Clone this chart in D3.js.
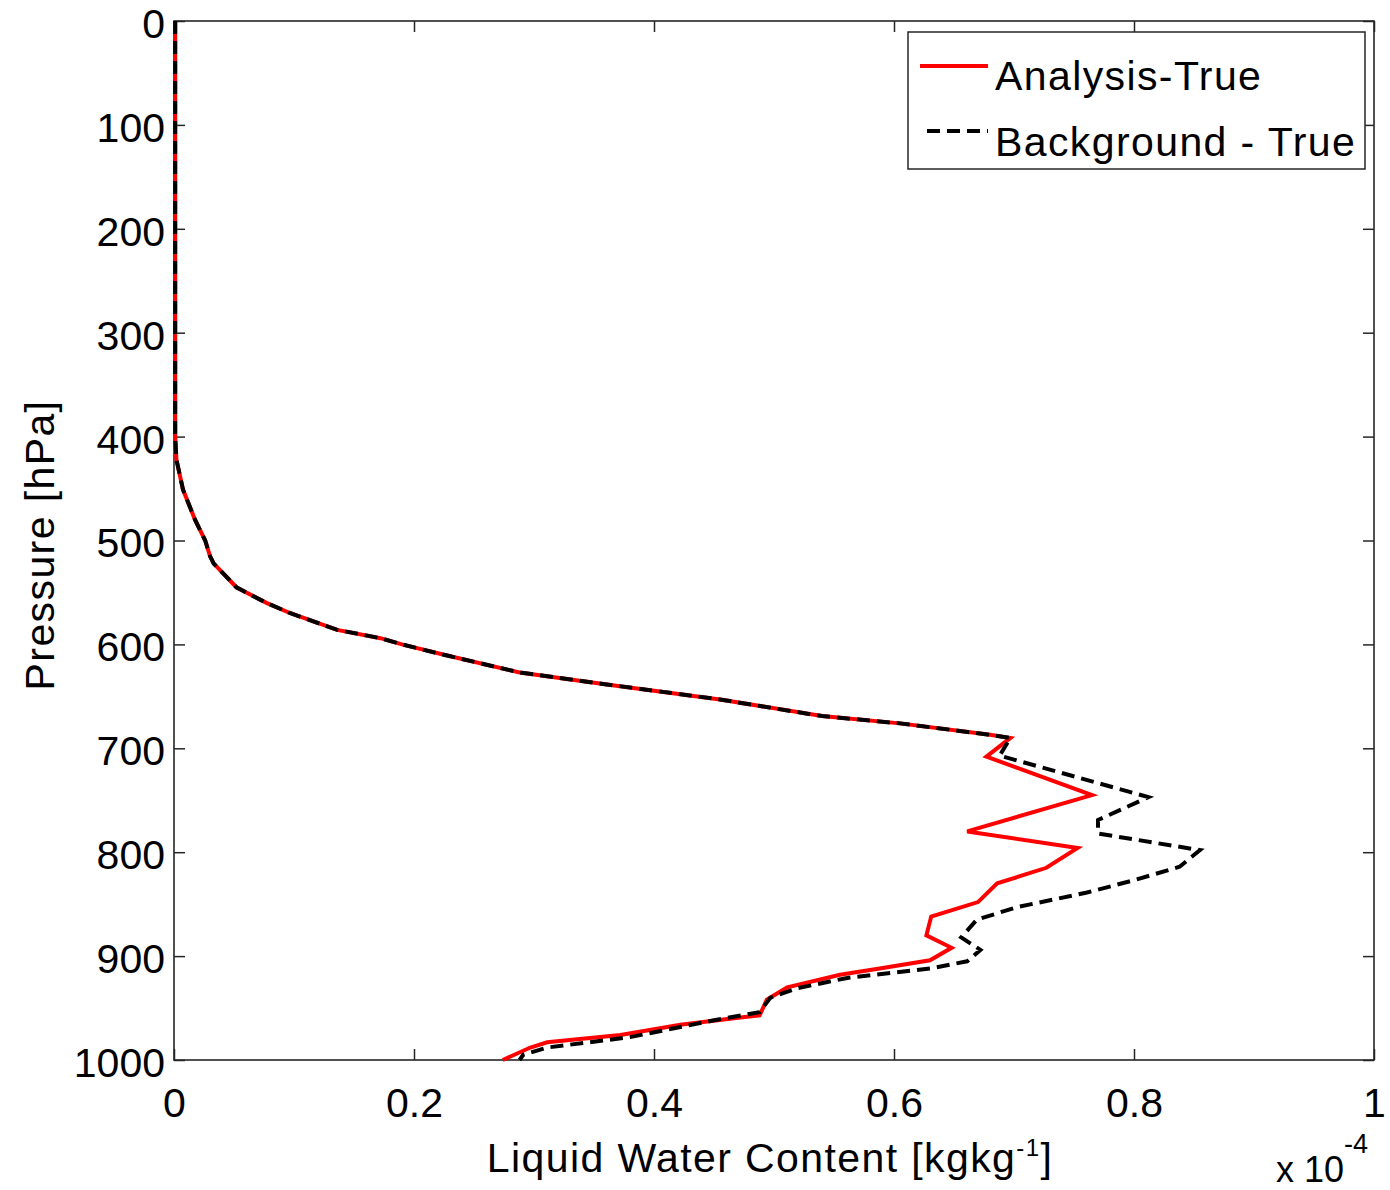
<!DOCTYPE html>
<html><head><meta charset="utf-8">
<script src="https://cdn.jsdelivr.net/npm/d3@7"></script>
<style>
html,body{margin:0;padding:0;background:#fff;}
svg{display:block;font-family:"Liberation Sans",Arial,Helvetica,sans-serif;}
</style></head>
<body>
<svg id="chart" width="1390" height="1190"></svg>
<script>
// ---- data (LWC in units of 1e-4 kg/kg, pressure in hPa) ----
const sharedP   = [0, 100, 200, 300, 400, 422, 451, 480, 500, 515, 522, 545, 560, 570, 586, 594, 600, 610, 627, 640, 653, 669, 676, 687, 690];
const sharedLWC = [0.001, 0.001, 0.001, 0.001, 0.001, 0.002, 0.0075, 0.0175, 0.026, 0.03, 0.033, 0.052, 0.077, 0.097, 0.136, 0.172, 0.19, 0.225, 0.288, 0.37, 0.455, 0.54, 0.605, 0.68, 0.697];

const analysisP   = [708, 745, 780, 796, 815, 830, 848, 862, 880, 892, 904, 912, 918, 930, 942, 957, 959, 966, 976, 983, 988, 1000];
const analysisLWC = [0.677, 0.765, 0.661, 0.753, 0.727, 0.686, 0.67, 0.631, 0.627, 0.648, 0.63, 0.588, 0.555, 0.511, 0.494, 0.488, 0.472, 0.422, 0.372, 0.311, 0.297, 0.274];

const backgroundP   = [707, 747, 769, 782, 798, 814, 827, 839, 853, 865, 882, 894, 905, 912, 921, 931, 940, 954, 962, 978, 988, 995, 1000];
const backgroundLWC = [0.688, 0.812, 0.77, 0.77, 0.855, 0.838, 0.8, 0.76, 0.702, 0.669, 0.656, 0.672, 0.661, 0.63, 0.561, 0.519, 0.497, 0.488, 0.449, 0.38, 0.311, 0.291, 0.288];

const xTicks = [0, 0.2, 0.4, 0.6, 0.8, 1];
const xTickLabels = ["0", "0.2", "0.4", "0.6", "0.8", "1"];
const yTicks = [0, 100, 200, 300, 400, 500, 600, 700, 800, 900, 1000];
const yTickLabels = ["0", "100", "200", "300", "400", "500", "600", "700", "800", "900", "1000"];
const seriesNames = ["Analysis-True", "Background - True"];

// ---- layout ----
const L = 174, R = 1374, T = 21, B = 1060;
const svg = d3.select("#chart");
const x = d3.scaleLinear().domain([0, 1]).range([L, R]);
const y = d3.scaleLinear().domain([0, 1000]).range([T, B]);
const FS = 41;
const LS = "1.4px";
const axisColor = "#262626";

const toPts = (P, V) => P.map((p, i) => [V[i], p]);
const analysis = toPts(sharedP, sharedLWC).concat(toPts(analysisP, analysisLWC));
const background = toPts(sharedP, sharedLWC).concat(toPts(backgroundP, backgroundLWC));

const line = d3.line().x(d => x(d[0])).y(d => y(d[1]));

// axes: ticks inside, on all four sides
const tickLen = 11;
const gB = svg.append("g").attr("transform", `translate(0,${B})`)
  .call(d3.axisBottom(x).tickValues(xTicks).tickSize(-tickLen).tickPadding(28).tickFormat((d, i) => xTickLabels[i]));
const gT = svg.append("g").attr("transform", `translate(0,${T})`)
  .call(d3.axisTop(x).tickValues(xTicks).tickSize(-tickLen).tickFormat(""));
const gL = svg.append("g").attr("transform", `translate(${L},0)`)
  .call(d3.axisLeft(y).tickValues(yTicks).tickSize(-tickLen).tickPadding(9).tickFormat((d, i) => yTickLabels[i]));
const gR = svg.append("g").attr("transform", `translate(${R},0)`)
  .call(d3.axisRight(y).tickValues(yTicks).tickSize(-tickLen).tickFormat(""));

[gB, gT, gL, gR].forEach(g => {
  g.select(".domain").remove();
  g.selectAll(".tick line").attr("stroke", axisColor).attr("stroke-width", 1.5);
  g.selectAll(".tick text").attr("fill", "#000").style("font-size", FS + "px")
    .style("font-family", '"Liberation Sans",Arial,sans-serif');
});
gB.selectAll(".tick text").attr("dy", "0.71em");
gL.selectAll(".tick text").attr("dy", "0.40em");

// frame
svg.append("rect").attr("x", L).attr("y", T).attr("width", R - L).attr("height", B - T)
  .attr("fill", "none").attr("stroke", axisColor).attr("stroke-width", 1.6);

// series
svg.append("path").datum(analysis).attr("d", line)
  .attr("fill", "none").attr("stroke", "#ff0000").attr("stroke-width", 4).attr("stroke-linejoin", "miter");
svg.append("path").datum(background).attr("d", line)
  .attr("fill", "none").attr("stroke", "#000").attr("stroke-width", 4)
  .attr("stroke-dasharray", "13,7");

// axis labels
const xl = svg.append("text").attr("x", 770).attr("y", 1172).attr("text-anchor", "middle")
  .style("font-size", FS + "px").style("letter-spacing", LS).attr("fill", "#000");
xl.append("tspan").text("Liquid Water Content [kgkg");
xl.append("tspan").attr("dy", -16).style("font-size", "24px").text("-1");
xl.append("tspan").attr("dy", 16).text("]");

svg.append("text").attr("transform", `translate(54,545) rotate(-90)`).attr("text-anchor", "middle")
  .style("font-size", FS + "px").style("letter-spacing", LS).attr("fill", "#000").text("Pressure [hPa]");

// exponent
const ex = svg.append("text").attr("x", 1276).attr("y", 1182).style("font-size", "36px").attr("fill", "#000");
ex.append("tspan").text("x 10");
ex.append("tspan").attr("dy", -29).style("font-size", "27px").text("-4");

// legend
const lg = svg.append("g");
lg.append("rect").attr("x", 908).attr("y", 32).attr("width", 457).attr("height", 137)
  .attr("fill", "#fff").attr("stroke", axisColor).attr("stroke-width", 1.5);
lg.append("line").attr("x1", 920).attr("x2", 988).attr("y1", 66).attr("y2", 66)
  .attr("stroke", "#ff0000").attr("stroke-width", 4);
lg.append("line").attr("x1", 927).attr("x2", 988).attr("y1", 131).attr("y2", 131)
  .attr("stroke", "#000").attr("stroke-width", 4).attr("stroke-dasharray", "13,7");
lg.append("text").attr("x", 995).attr("y", 90).style("font-size", FS + "px").style("letter-spacing", LS).attr("fill", "#000").text(seriesNames[0]);
lg.append("text").attr("x", 995).attr("y", 156).style("font-size", FS + "px").style("letter-spacing", LS).attr("fill", "#000").text(seriesNames[1]);
</script>
</body></html>
